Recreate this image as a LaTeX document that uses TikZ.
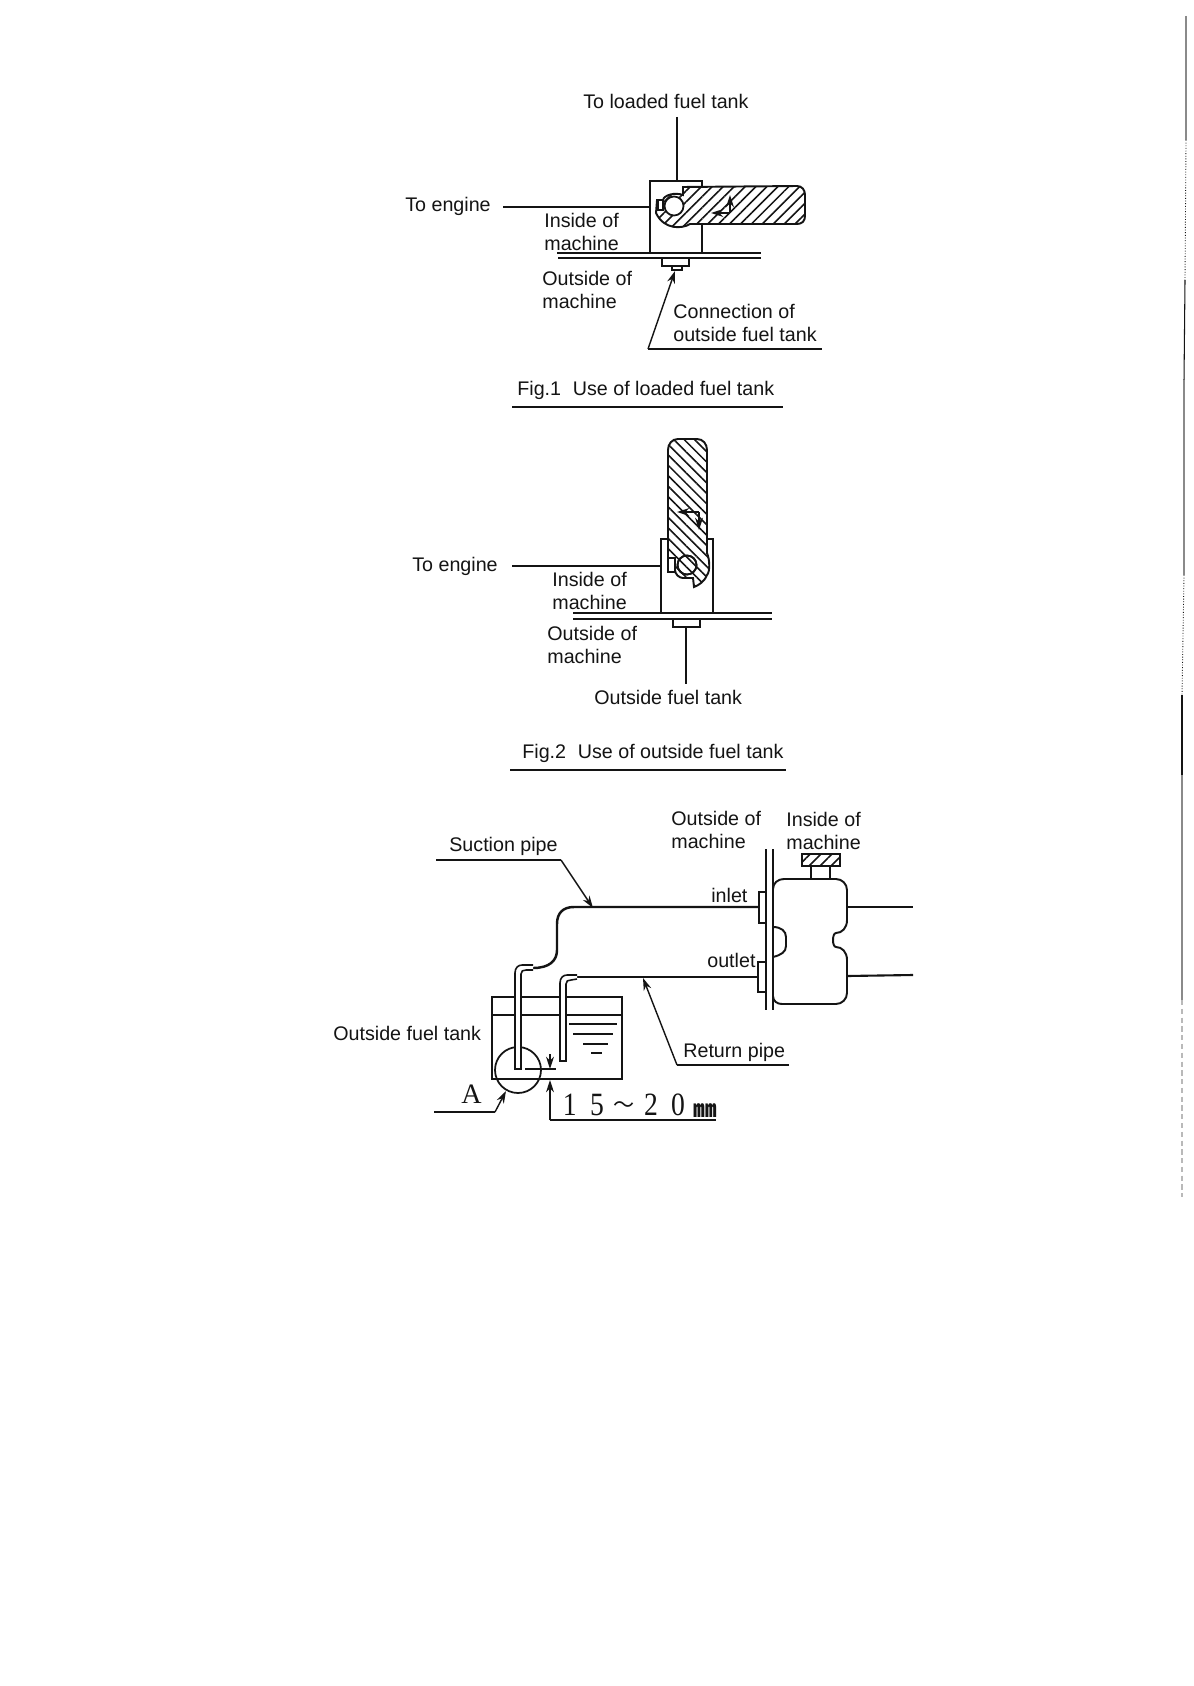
\documentclass[tikz,border=0pt]{standalone}
\usepackage{fontspec}
\setmainfont{Liberation Sans}
\newfontfamily\dimfont{Liberation Serif}
\newfontfamily\cjkfont{Noto Sans CJK JP}
\usepackage{xcolor}
\usetikzlibrary{arrows.meta,positioning,calc,patterns.meta}
\definecolor{ink}{HTML}{141414}
\definecolor{scan}{HTML}{8A8A8A}
\newcommand{\dimcell}[1]{\makebox[15.4pt]{\scalebox{0.85}[1]{#1}}}

\begin{document}
\begin{tikzpicture}[x=0.02cm,y=-0.02cm,>={Stealth[length=7pt,width=4.5pt]},font=\fontsize{11.2}{13}\selectfont,text=ink]
\tikzset{lab/.style={anchor=west,inner sep=0pt,text=ink},line/.style={draw=ink,line width=0.7pt},pipe/.style={draw=ink,line width=1.2pt},
hatchR/.style={pattern={Lines[angle=45,distance=4.4pt,line width=0.9pt]},pattern color=ink},hatchL/.style={pattern={Lines[angle=-45,distance=4.2pt,line width=0.9pt]},pattern color=ink},
arr/.style={->,line,line width=0.8pt}}
\useasboundingbox (0,0) rectangle (1193,1686);
\fill[white] (0,0) rectangle (1193,1686);
% margin of the scan
\draw[scan,line width=1pt] (1186,16)--(1186,140);
\draw[ink,line width=0.5pt,densely dotted] (1186,140)--(1185,280);
\draw[ink,line width=0.6pt] (1185,280)--(1184,380);
\draw[scan,line width=1.1pt] (1184,380)--(1184,575);
\draw[ink,line width=0.5pt,densely dotted] (1184,575)--(1182,695);
\draw[ink,line width=0.6pt] (1182,695)--(1182,775);
\draw[scan,line width=1pt] (1182,775)--(1182,1000);
\draw[scan!60,line width=1pt,densely dashed] (1182,1000)--(1182,1197);

% Fig.1
\node[lab] (loaded) at (583,101) {To loaded fuel tank};
\node[lab] (engineA) at (405,206) {To engine};
\node[lab] (insideA) at (544,220) {Inside of};
\node[lab] (insideAb) at (544,243) {machine};
\node[lab] (outsideA) at (542,278) {Outside of};
\node[lab] (outsideAb) at (542,301) {machine};
\node[lab] (connA) at (673,311) {Connection of};
\node[lab] (connAb) at (673,334) {outside fuel tank};
\node[lab] (figA) at (517,390) {Fig.1\hspace{0.6em}Use of loaded fuel tank};
\draw[line] (512,407)--(783,407);
\coordinate (loadedEnd) at (677,117); \coordinate (loadedTop) at (677,181);
\coordinate (engineEndA) at (503,207); \coordinate (bracketA) at (650,207);
\draw[pipe,line width=1.3pt] (loadedEnd)--(loadedTop);
\draw[line,line width=0.9pt] (engineEndA)--(bracketA);
\draw[line,line width=0.9pt] (702,186)--(702,181)--(650,181)--(650,253);
\draw[line,line width=0.9pt] (702,225)--(702,253);
% tank of fig.1
\draw[line,line width=1.1pt,hatchR] (683,195)--(683,187)--(797,186) .. controls (802,186) and (805,190) .. (805,195)--(805,216) .. controls (805,221) and (802,224) .. (797,224)--(690,224) .. controls (682,229) and (664,230) .. (656,213)--(657,200)--(663,200) .. controls (664,195) and (675,192) .. cycle;
\draw[line,line width=1pt,fill=white] (674,206) circle (9.5);
\draw[line,line width=0.8pt,fill=white] (658,200) rectangle (663,210);
\coordinate (cornerA) at (730,213);
\draw[arr] (cornerA)--(730,195);
\draw[arr] (cornerA)--(711,213);
% wall, fitting
\draw[pipe,line width=1pt] (557,253)--(761,253);
\draw[pipe,line width=1pt] (558,258)--(761,258);
\draw[line] (662,259)--(662,266)--(689,266)--(689,259);
\draw[line] (672,266)--(672,270)--(682,270)--(682,266);
\coordinate (connAfoot) at (648,349); \coordinate (connAtip) at (675,271);
\draw[arr] (connAfoot)--(connAtip);
\draw[line] (connAfoot)--(822,349);

% Fig.2
\node[lab] (engineB) at (412,566) {To engine};
\node[lab] (insideB) at (552,579) {Inside of};
\node[lab] (insideBb) at (552,602) {machine};
\node[lab] (outsideB) at (547,633) {Outside of};
\node[lab] (outsideBb) at (547,656) {machine};
\node[lab] (tankB) at (594,697) {Outside fuel tank};
\node[lab] (figB) at (522,753) {Fig.2\hspace{0.6em}Use of outside fuel tank};
\draw[line] (510,770)--(786,770);
\coordinate (engineEndB) at (512,566); \coordinate (bracketB) at (661,566);
\draw[line,line width=0.9pt] (engineEndB)--(bracketB);
\draw[line,line width=0.9pt] (668,539)--(661,539)--(661,613);
\draw[line,line width=0.9pt] (707,539)--(713,539)--(713,613);
% tank of fig.2
\draw[line,line width=1.1pt,hatchL] (668,557)--(668,450) .. controls (668,444) and (672,439) .. (678,439)--(697,439) .. controls (703,439) and (707,444) .. (707,450)--(707,553) .. controls (710,560) and (710,572) .. (707,575) .. controls (704,582) and (699,585) .. (694,587)--(693,578)--(683,578) .. controls (679,578) and (675,574) .. (675,570)--(675,560)--(668,560)--cycle;
\draw[line,line width=0.9pt,fill=white] (668,558) rectangle (675,572);
\draw[line,line width=1pt,fill=white] (687,565) circle (9.5);
\draw[line,line width=1pt,hatchL] (687,565) circle (9.5);
\coordinate (cornerB) at (699,512);
\draw[arr] (cornerB)--(677,512);
\draw[arr] (cornerB)--(699,530);
\draw[pipe,line width=1pt] (573,613)--(772,613);
\draw[pipe,line width=1pt] (573,619)--(772,619);
\draw[line] (673,620)--(673,627)--(700,627)--(700,620);
\coordinate (fitB) at (686,627); \coordinate (tankEndB) at (686,684);
\draw[pipe,line width=1.3pt] (fitB)--(tankEndB);

% Fig.3
\node[lab] (suction) at (449,846) {Suction pipe};
\node[lab] (outsideC) at (671,818) {Outside of};
\node[lab] (outsideCb) at (671,841) {machine};
\node[lab] (insideC) at (786,819) {Inside of};
\node[lab] (insideCb) at (786,842) {machine};
\node[lab] (inlet) at (711,895) {inlet};
\node[lab] (outlet) at (707,960) {outlet};
\node[lab] (tankC) at (333,1033) {Outside fuel tank};
\node[lab] (retpipe) at (683,1052) {Return pipe};
\node[lab,font=\dimfont\fontsize{16}{16}\selectfont] (markA) at (461,1094) {A};
\node[lab,font=\dimfont\fontsize{18.5}{18}\selectfont] (dimC) at (556,1106) {\dimcell{1}\dimcell{5}\makebox[15.4pt]{\cjkfont\fontsize{12}{13}\selectfont\raisebox{2pt}{～}}\dimcell{2}\dimcell{0}\makebox[15.4pt]{\cjkfont\fontsize{13.5}{13}\selectfont\bfseries\raisebox{-1pt}{㎜}}};
% leaders
\coordinate (suctionFoot) at (561,860); \coordinate (suctionTip) at (593,908);
\draw[line] (436,860)--(suctionFoot);
\draw[arr] (suctionFoot)--(suctionTip);
\coordinate (returnFoot) at (677,1065); \coordinate (returnTip) at (643,978);
\draw[line] (789,1065)--(returnFoot);
\draw[arr] (returnFoot)--(returnTip);
\coordinate (markFoot) at (495,1112); \coordinate (markTip) at (506,1091);
\draw[line] (434,1112)--(markFoot);
\draw[arr] (markFoot)--(markTip);
% tank
\draw[line,line width=1.1pt] (492,997) rectangle (622,1079);
\draw[line,line width=0.9pt] (493,1015)--(621,1015);
\draw[line,line width=1pt] (569,1024)--(617,1024);
\draw[line,line width=1pt] (573,1034)--(613,1034);
\draw[line] (583,1044)--(608,1044);
\draw[line] (591,1053)--(602,1053);
\draw[line,line width=1pt] (518,1070) circle (23);
% pipes
\coordinate (inletEnd) at (759,907); \coordinate (outletEnd) at (758,977);
\draw[pipe,line width=1.4pt] (inletEnd)--(574,907) .. controls (563,907) and (557,913) .. (557,924)--(557,950) .. controls (557,961) and (549,968) .. (533,968);
\draw[line,line width=0.9pt,fill=white] (533,965)--(522,965) .. controls (518,965) and (515,968) .. (515,973)--(515,1069)--(521,1069)--(521,974) .. controls (521,971) and (523,970) .. (526,970)--(533,970);
\draw[pipe,line width=1pt] (outletEnd)--(577,977);
\draw[line,line width=0.9pt,fill=white] (577,975)--(567,975) .. controls (563,975) and (560,978) .. (560,983)--(560,1061)--(566,1061)--(566,984) .. controls (566,981) and (568,980) .. (571,980)--(577,979);
% 15-20 dimension
\coordinate (dimFoot) at (550,1120); \coordinate (dimTip) at (550,1080);
\draw[line] (525,1069)--(556,1069);
\draw[arr] (550,1054)--(550,1069);
\draw[arr] (dimFoot)--(dimTip);
\draw[line,line width=0.9pt] (dimFoot)--(716,1120);
% wall and filter
\draw[line,line width=0.9pt] (766,849)--(766,1010);
\draw[pipe,line width=1.3pt] (773,849)--(773,1010);
\draw[line,hatchR,line width=0.9pt] (802,854) rectangle (840,866);
\draw[line] (811,866)--(811,879); \draw[line] (830,866)--(830,879);
\draw[line,line width=1.1pt] (773,889) .. controls (773,883) and (778,879) .. (784,879)--(836,879) .. controls (842,879) and (847,884) .. (847,890)--(847,920) .. controls (847,928) and (842,933) .. (836,933) .. controls (832,933) and (832,947) .. (836,947) .. controls (842,947) and (847,952) .. (847,960)--(847,993) .. controls (847,999) and (842,1004) .. (836,1004)--(782,1004) .. controls (777,1004) and (773,1001) .. (773,996);
\draw[line,line width=1.1pt] (773,927) .. controls (781,927) and (786,931) .. (786,937)--(786,946) .. controls (786,952) and (781,955) .. (773,957);
\draw[line,line width=0.9pt] (766,892)--(759,892)--(759,923)--(766,923);
\draw[line,line width=0.9pt] (766,962)--(758,962)--(758,992)--(766,992);
\coordinate (filterIn) at (847,907); \coordinate (filterOut) at (847,976);
\draw[pipe] (filterIn)--(913,907);
\draw[pipe] (filterOut)--(913,975);
\end{tikzpicture}
\end{document}
